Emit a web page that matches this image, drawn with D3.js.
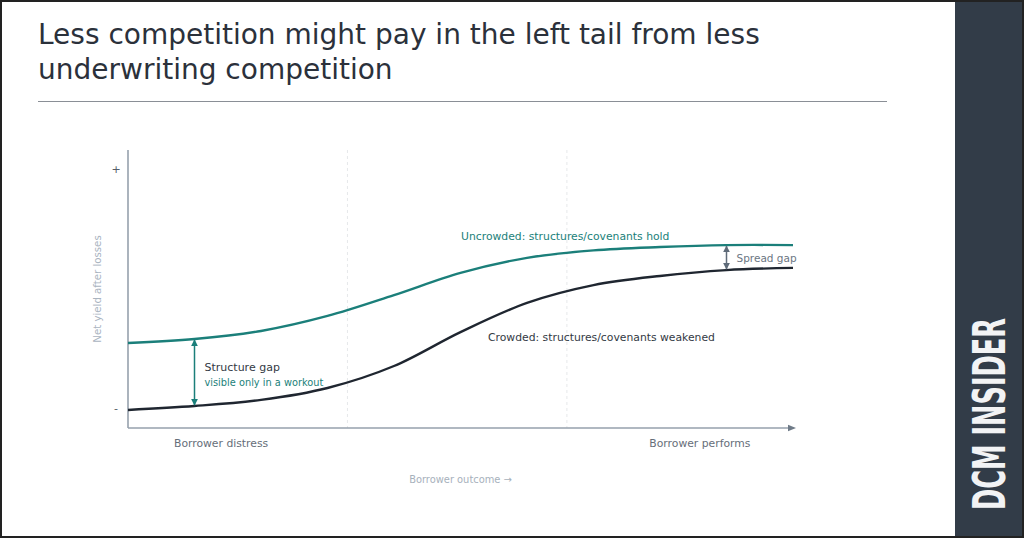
<!DOCTYPE html>
<html>
<head>
<meta charset="utf-8">
<script src="https://cdn.jsdelivr.net/npm/d3@7"></script>
<style>
  html, body { margin: 0; padding: 0; background: #fff; }
  svg { display: block; font-family: "DejaVu Sans", sans-serif; }
</style>
</head>
<body>
<div id="chart"></div>
<script>
const W = 1024, H = 538;
const margin = { top: 150, right: 231, bottom: 110, left: 128 };

// borrower outcome, 0 = distress, 100 = performs
const outcome = [0, 10, 20, 30, 40, 50, 60, 70, 80, 90, 100];
// net yield after losses (arbitrary units)
const uncrowded = [30.6, 32.0, 34.9, 40.3, 47.8, 55.8, 61.2, 63.9, 65.1, 65.8, 65.8];
const crowded   = [6.5, 7.9, 10.1, 14.4, 22.3, 34.5, 45.0, 51.4, 54.7, 56.8, 57.6];

const yTicks = [7, 93];
const yTickLabels = ["-", "+"];
const gridX = [33, 66];
const xEndLabels = ["Borrower distress", "Borrower performs"];
const xEndPos = [14, 86];

const structureGapAt = 10;
const spreadGapAt = 90;

const teal = "#1b7f7a";
const dark = "#1f2630";
const axisCol = "#96a1ad";

const svg = d3.select("#chart").append("svg")
  .attr("width", W)
  .attr("height", H);

svg.append("rect").attr("width", W).attr("height", H).attr("fill", "#fff");

// title
const title = svg.append("text")
  .attr("x", 38).attr("y", 44)
  .attr("font-size", 28)
  .attr("fill", "#2b313b");
title.append("tspan").attr("x", 38).text("Less competition might pay in the left tail from less");
title.append("tspan").attr("x", 38).attr("dy", 35).text("underwriting competition");

svg.append("line")
  .attr("x1", 38).attr("x2", 887)
  .attr("y1", 101.5).attr("y2", 101.5)
  .attr("stroke", "#8a8f96").attr("stroke-width", 1.2);

const x = d3.scaleLinear().domain([0, 100]).range([margin.left, 793]);
const y = d3.scaleLinear().domain([0, 100]).range([428, 150]);

// light dashed gridlines
svg.selectAll(".grid")
  .data(gridX)
  .enter().append("line")
  .attr("x1", d => x(d)).attr("x2", d => x(d))
  .attr("y1", 150).attr("y2", 428)
  .attr("stroke", "#e6e8ea").attr("stroke-dasharray", "3,3");

// y axis
svg.append("line")
  .attr("x1", x(0)).attr("x2", x(0))
  .attr("y1", 150).attr("y2", 428)
  .attr("stroke", axisCol).attr("stroke-width", 1.6);

svg.selectAll(".ytick")
  .data(yTicks)
  .enter().append("text")
  .attr("x", x(0) - 12)
  .attr("y", d => y(d))
  .attr("dy", "0.35em")
  .attr("text-anchor", "middle")
  .attr("font-size", 11)
  .attr("fill", "#555d68")
  .text((d, i) => yTickLabels[i]);

svg.append("text")
  .attr("transform", `translate(101,${(150 + 428) / 2}) rotate(-90)`)
  .attr("text-anchor", "middle")
  .attr("font-size", 10.2)
  .attr("fill", "#aab4bf")
  .text("Net yield after losses");

// x axis with arrow
svg.append("defs").append("marker")
  .attr("id", "axArrow")
  .attr("viewBox", "0 0 10 10")
  .attr("refX", 0).attr("refY", 5)
  .attr("markerWidth", 5).attr("markerHeight", 5)
  .attr("markerUnits", "strokeWidth")
  .attr("orient", "auto")
  .append("path").attr("d", "M0,1 L10,5 L0,9 Z").attr("fill", "#6f7b88");

svg.append("line")
  .attr("x1", x(0)).attr("x2", x(100) - 5)
  .attr("y1", 428).attr("y2", 428)
  .attr("stroke", axisCol).attr("stroke-width", 1.6)
  .attr("marker-end", "url(#axArrow)");

svg.selectAll(".xend")
  .data(xEndLabels)
  .enter().append("text")
  .attr("x", (d, i) => x(xEndPos[i]))
  .attr("y", 447)
  .attr("text-anchor", "middle")
  .attr("font-size", 10.8)
  .attr("fill", "#666e79")
  .text(d => d);

svg.append("text")
  .attr("x", x(50)).attr("y", 483)
  .attr("text-anchor", "middle")
  .attr("font-size", 9.9)
  .attr("fill", "#a7b1bc")
  .text("Borrower outcome \u2192");

// curves
const line = d3.line().curve(d3.curveCatmullRom.alpha(0.5));

svg.append("path")
  .attr("d", line(outcome.map((o, i) => [x(o), y(uncrowded[i])])))
  .attr("fill", "none").attr("stroke", teal).attr("stroke-width", 2.4);

svg.append("path")
  .attr("d", line(outcome.map((o, i) => [x(o), y(crowded[i])])))
  .attr("fill", "none").attr("stroke", dark).attr("stroke-width", 2.4);

// double arrows
function gapArrow(at, color, id) {
  const i = outcome.indexOf(at);
  const m = svg.select("defs").append("marker")
    .attr("id", id)
    .attr("viewBox", "0 0 10 10")
    .attr("refX", 9).attr("refY", 5)
    .attr("markerWidth", 7).attr("markerHeight", 7)
    .attr("markerUnits", "userSpaceOnUse")
    .attr("orient", "auto-start-reverse");
  m.append("path").attr("d", "M0,0 L10,5 L0,10 Z").attr("fill", color);
  svg.append("line")
    .attr("x1", x(at)).attr("x2", x(at))
    .attr("y1", y(uncrowded[i]) + 1).attr("y2", y(crowded[i]) - 1)
    .attr("stroke", color).attr("stroke-width", 1.5)
    .attr("marker-start", `url(#${id})`)
    .attr("marker-end", `url(#${id})`);
}
gapArrow(structureGapAt, teal, "tealArrow");
gapArrow(spreadGapAt, "#5f6b79", "grayArrow");

// annotations
svg.append("text")
  .attr("x", x(structureGapAt) + 10).attr("y", 371)
  .attr("font-size", 11).attr("fill", "#333a44")
  .text("Structure gap");
svg.append("text")
  .attr("x", x(structureGapAt) + 10).attr("y", 386)
  .attr("font-size", 9.8).attr("fill", teal)
  .text("visible only in a workout");

svg.append("text")
  .attr("x", x(spreadGapAt) + 10).attr("y", 262)
  .attr("font-size", 10.5).attr("fill", "#6b7683")
  .text("Spread gap");

svg.append("text")
  .attr("x", 461).attr("y", 240)
  .attr("font-size", 10.8).attr("fill", teal)
  .text("Uncrowded: structures/covenants hold");

svg.append("text")
  .attr("x", 488).attr("y", 341)
  .attr("font-size", 10.8).attr("fill", "#333a44")
  .text("Crowded: structures/covenants weakened");

// sidebar
svg.append("rect")
  .attr("x", 955).attr("y", 0)
  .attr("width", W - 955).attr("height", H)
  .attr("fill", "#323c48");

svg.append("text")
  .attr("transform", "translate(1005,414) rotate(-90)")
  .attr("text-anchor", "middle")
  .attr("font-family", "'Liberation Sans Narrow', 'DejaVu Sans Condensed', sans-serif")
  .attr("font-weight", "bold")
  .attr("font-size", 45)
  .attr("textLength", 192)
  .attr("lengthAdjust", "spacingAndGlyphs")
  .attr("fill", "#f2f3f5")
  .text("DCM INSIDER");

// frame
svg.append("rect")
  .attr("x", 1).attr("y", 1)
  .attr("width", W - 2).attr("height", H - 2)
  .attr("fill", "none").attr("stroke", "#222").attr("stroke-width", 2);
</script>
</body>
</html>
